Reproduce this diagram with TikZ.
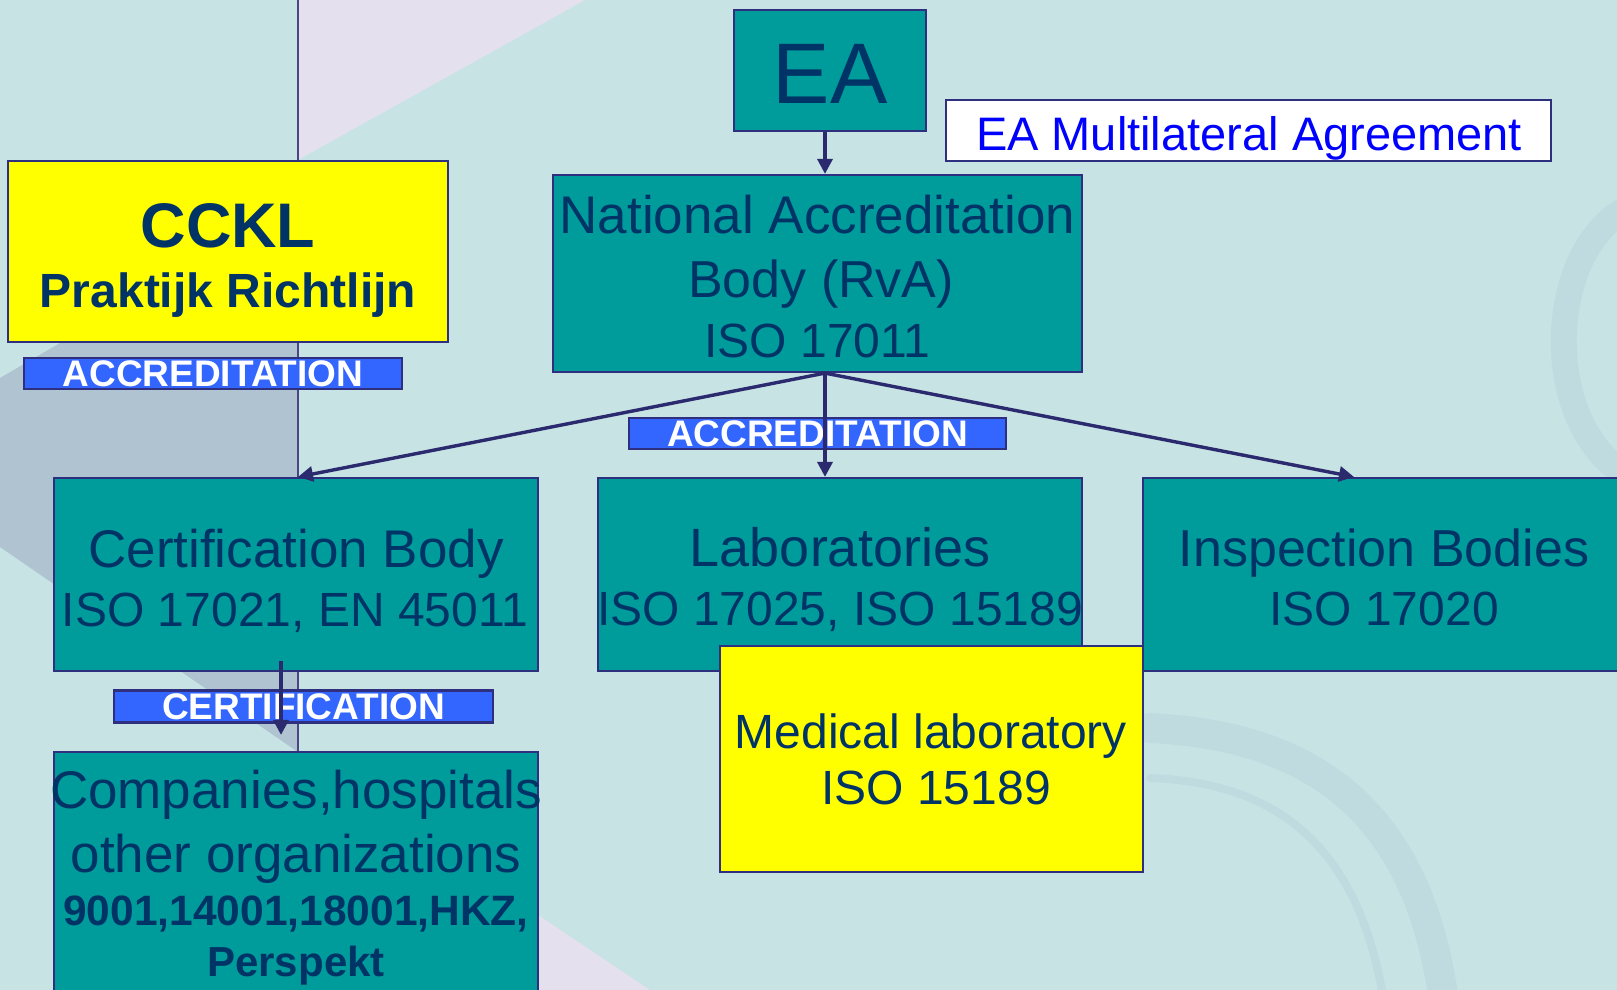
\documentclass[tikz,border=0pt]{standalone}
\usepackage{fontspec}
\setmainfont{Liberation Sans}
\usetikzlibrary{arrows.meta,calc}
\definecolor{bgteal}{HTML}{C7E3E4}
\definecolor{bgshade}{HTML}{BCD5DC}
\definecolor{lav}{HTML}{E4E0EE}
\definecolor{greyb}{HTML}{AFC3D1}
\definecolor{vlinec}{HTML}{4B4585}
\definecolor{teal0}{HTML}{009B9B}
\definecolor{navy}{HTML}{003366}
\definecolor{bordc}{HTML}{2F2F80}
\definecolor{arrc}{HTML}{2B2A6E}
\definecolor{lblue}{HTML}{3366FF}
\definecolor{yel}{HTML}{FFFF00}
\definecolor{mlablue}{HTML}{0000FF}
\begin{document}
\begin{tikzpicture}[x=1pt,y=-1pt,
  box/.style={draw=bordc, line width=2.2pt, inner sep=0pt, rectangle},
  tealbox/.style={box, fill=teal0},
  ybox/.style={box, fill=yel},
  lbl/.style={box, fill=lblue, text=white, font=\bfseries\fontsize{37}{40}\selectfont, text height=27pt, text depth=1pt},
  tx/.style={anchor=base, inner sep=0pt, text=navy},
  arr/.style={draw=arrc, line width=3.4pt, -{Triangle[length=15pt,width=15pt]}},
  shade/.style={draw=bgshade, line cap=round, opacity=0.55},
]
\useasboundingbox (0,0) rectangle (1617,990);
\clip (0,0) rectangle (1617,990);
% background
\fill[bgteal] (0,0) rectangle (1617,990);
\fill[lav] (298,0) -- (585,0) -- (298,160) -- cycle;
\fill[greyb] (0,378) -- (60,343) -- (298,343) -- (298,752) -- (0,547) -- cycle;
\fill[lav] (538,915) -- (650,990) -- (538,990) -- cycle;
\draw[shade, line width=30pt] (1150,728) .. controls (1300,735) and (1420,800) .. (1445,1010);
\draw[shade, line width=8pt] (1150,778) .. controls (1260,782) and (1360,830) .. (1385,1010);
\draw[shade, line width=26pt] (1635,205) .. controls (1545,240) and (1535,430) .. (1635,480);
% anchor coordinates
\coordinate (vtop) at (298,0);
\coordinate (ax) at (825,0);
\coordinate (ibx) at (1354,0);
\coordinate (cx) at (281,0);
\coordinate (vbot) at (298,752);
% background vertical line (behind every box)
\draw[vlinec, line width=1.5pt] (vtop) -- (vbot);

% boxes
\node[tealbox, minimum width=192pt, minimum height=121pt] (ea) at (830,70.5) {};
\node[box, fill=white, minimum width=605pt, minimum height=61pt] (mla) at (1248.5,130.5) {};
\node[tealbox, minimum width=529pt, minimum height=197pt] (nab) at (817.5,273.5) {};
\node[tealbox, minimum width=484pt, minimum height=193pt] (cb) at (296,574.5) {};
\node[tealbox, minimum width=484pt, minimum height=258pt] (comp) at (296,881) {};
\node[ybox, minimum width=440pt, minimum height=181pt] (cckl) at (228,251.5) {};
\node[lbl, minimum width=378pt, minimum height=31pt] (accl) at (213,373.5) {ACCREDITATION};
\node[lbl, minimum width=377pt, minimum height=31pt] (accm) at (817.5,433.5) {ACCREDITATION};
\node[tealbox, minimum width=484pt, minimum height=193pt] (lab) at (840,574.5) {};
\node[tealbox, minimum width=482pt, minimum height=193pt] (ib) at (1384,574.5) {};
\node[ybox, minimum width=423pt, minimum height=226pt] (med) at (931.5,759) {};
\node[lbl, minimum width=379pt, minimum height=32pt] (certl) at (303.5,706.5) {CERTIFICATION};

% texts
\node[tx, font=\fontsize{86}{90}\selectfont] (tea) at (830,103) {EA};
\node[tx, text=mlablue, font=\fontsize{47}{50}\selectfont] (tmla) at (1249,150.5) {EA Multilateral Agreement};
\node[tx, font=\bfseries\fontsize{63}{66}\selectfont] (tcckl1) at (228,247.5) {CCKL};
\node[tx, font=\bfseries\fontsize{48}{50}\selectfont] (tcckl2) at (228,307.5) {Praktijk Richtlijn};
\node[tx, font=\fontsize{53}{56}\selectfont] (tnab1) at (817.5,233.5) {National Accreditation};
\node[tx, font=\fontsize{52}{56}\selectfont] (tnab2) at (821,297) {Body (RvA)};
\node[tx, font=\fontsize{48}{52}\selectfont] (tnab3) at (817.5,357) {ISO 17011};
\node[tx, font=\fontsize{53}{56}\selectfont] (tcb1) at (296,567) {Certification Body};
\node[tx, font=\fontsize{48}{52}\selectfont] (tcb2) at (295,626) {ISO 17021, EN 45011};
\node[tx, font=\fontsize{54}{56}\selectfont] (tlab1) at (840,566) {Laboratories};
\node[tx, font=\fontsize{48}{52}\selectfont] (tlab2) at (840,625) {ISO 17025, ISO 15189};
\node[tx, font=\fontsize{52}{56}\selectfont] (tib1) at (1384,566) {Inspection Bodies};
\node[tx, font=\fontsize{48}{52}\selectfont] (tib2) at (1384,625) {ISO 17020};
\node[tx, font=\fontsize{48}{52}\selectfont] (tmed1) at (931,748.5) {Medical laboratory};
\node[tx, font=\fontsize{48}{52}\selectfont] (tmed2) at (936,804) {ISO 15189};
\node[tx, font=\fontsize{53}{56}\selectfont] (tc1) at (296,808) {Companies,hospitals};
\node[tx, font=\fontsize{53}{56}\selectfont] (tc2) at (296,872) {other organizations};
\node[tx, font=\bfseries\fontsize{42.5}{45}\selectfont] (tc3) at (296,925) {9001,14001,18001,HKZ,};
\node[tx, font=\bfseries\fontsize{42}{45}\selectfont] (tc4) at (296,976) {Perspekt};

% connectors
\draw[arr] (ax |- ea.south) -- (ax |- nab.north);
\draw[arr] (ax |- nab.south) -- (vtop |- cb.north);
\draw[arr] (ax |- nab.south) -- (ax |- lab.north);
\draw[arr] (ax |- nab.south) -- (ibx |- ib.north);
\draw[arr] ($(cx |- cb.south)+(0,-11)$) -- ($(cx |- comp.north)+(0,-16)$);
\end{tikzpicture}
\end{document}
